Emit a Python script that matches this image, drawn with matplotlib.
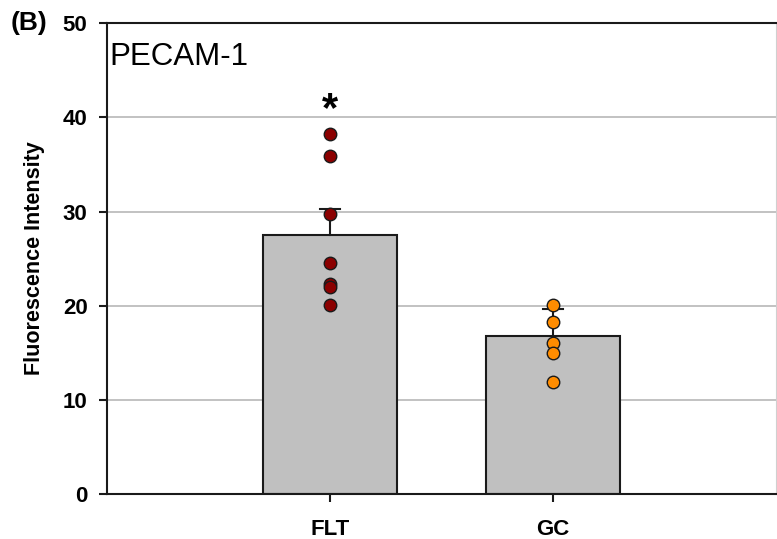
import matplotlib
matplotlib.use("Agg")
import matplotlib.pyplot as plt

plt.rcParams['font.family'] = ['Liberation Sans', 'DejaVu Sans']

groups = ['FLT', 'GC']
bar_means = [27.5, 16.8]
bar_sem = [2.8, 2.8]
flt_points = [38.2, 35.9, 29.7, 24.5, 22.3, 22.0, 20.1]
gc_points = [20.1, 18.3, 16.0, 15.0, 11.9]
yticks = [0, 10, 20, 30, 40, 50]

fig = plt.figure(figsize=(7.77, 5.39), dpi=100)
ax = fig.add_axes([0.1377, 0.0835, 0.8610, 0.8735])

xpos = [1, 2]
ax.set_xlim(0, 3)
ax.set_ylim(0, 50)

for y in yticks[1:]:
    ax.axhline(y, color='#b8b8b8', lw=1.2, zorder=0)

ax.bar(xpos, bar_means, width=0.6, color='#c0c0c0', edgecolor='#1a1a1a', lw=1.5, zorder=2)
# upper error bar only
for x, m, e in zip(xpos, bar_means, bar_sem):
    ax.plot([x, x], [m, m + e], color='#1a1a1a', lw=1.5, zorder=2)
    ax.plot([x - 0.045, x + 0.045], [m + e, m + e], color='#1a1a1a', lw=1.5, zorder=2)

ax.plot([1] * len(flt_points), flt_points, 'o', ms=9, mfc='#8b0000', mec='#1a1a1a', mew=1.0, zorder=3)
ax.plot([2] * len(gc_points), gc_points, 'o', ms=9, mfc='#ff8c00', mec='#1a1a1a', mew=1.0, zorder=3)

ax.text(1, 40.8, '*', ha='center', va='center', fontsize=30, fontweight='bold')
ax.text(0.01, 46.4, 'PECAM-1', ha='left', va='center', fontsize=22.5)

ax.set_xticks(xpos)
ax.set_xticklabels(groups, fontsize=16, fontweight='bold')
ax.set_yticks(yticks)
ax.set_yticklabels([str(t) for t in yticks], fontsize=16, fontweight='bold')
ax.tick_params(axis='both', direction='out', length=6, width=1.5, color='#1a1a1a')
ax.tick_params(axis='y', pad=8)
ax.tick_params(axis='x', pad=12)
ax.set_ylabel('Fluorescence Intensity', fontsize=15.5, fontweight='bold', labelpad=13)

for side in ['left', 'bottom', 'top']:
    ax.spines[side].set_linewidth(1.5)
    ax.spines[side].set_color('#1a1a1a')
ax.spines['right'].set_color('#d0d0d0')

fig.text(0.014, 0.957, '(B)', fontsize=19, fontweight='bold', va='center')

fig.savefig('out.png', dpi=100)
